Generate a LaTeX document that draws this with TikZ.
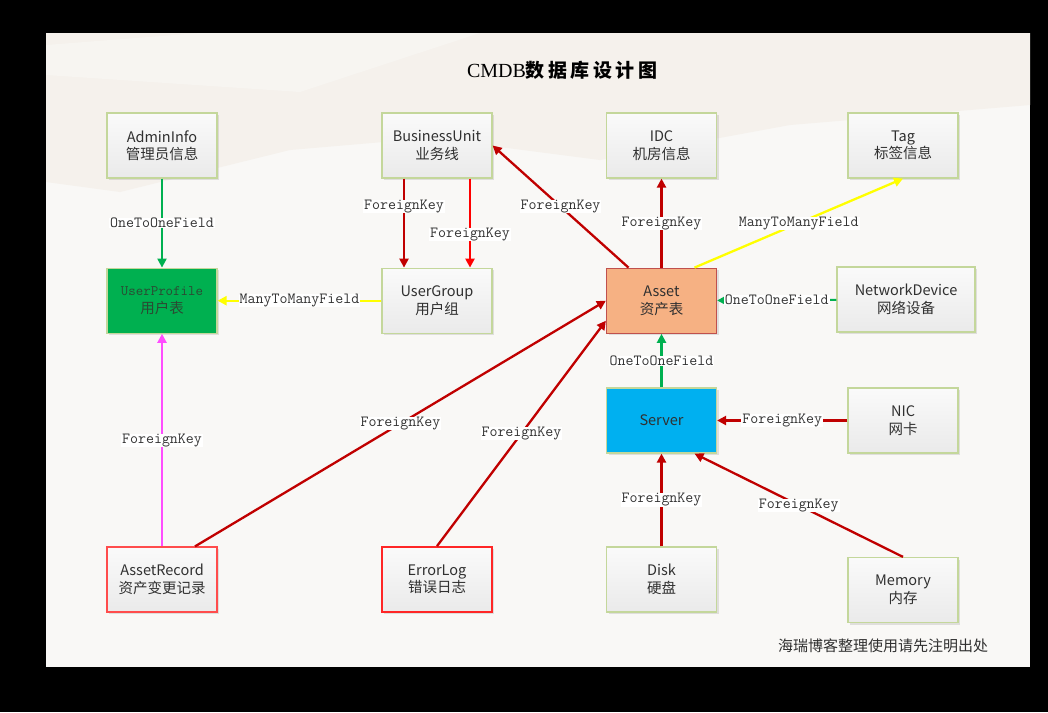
\documentclass[tikz,border=0pt]{standalone}
\usepackage{fontspec}
\newfontfamily\cjk{Noto Sans CJK SC}
\newfontfamily\titlefont{Liberation Serif}
\usetikzlibrary{arrows.meta,positioning,shadows}
\definecolor{panel}{HTML}{F9F8F6}
\definecolor{panelshade}{HTML}{F5F1EC}
\definecolor{boxline}{HTML}{C4D79B}
\definecolor{boxtop}{HTML}{FAFAFA}
\definecolor{boxbot}{HTML}{EAEAEA}
\definecolor{boxtext}{HTML}{303030}
\definecolor{lbltext}{HTML}{333333}
\definecolor{fkred}{HTML}{C00000}
\definecolor{fkbright}{HTML}{FF0000}
\definecolor{otogreen}{HTML}{00B050}
\definecolor{mtmyellow}{HTML}{FFFF00}
\definecolor{fkpink}{HTML}{FF4DFF}
\definecolor{assetfill}{HTML}{F6B183}
\definecolor{assetline}{HTML}{C0504D}
\definecolor{serverfill}{HTML}{00B0F0}
\definecolor{uptext}{HTML}{2B4A33}
\tikzset{
    -{Triangle[length=9pt,width=9pt]},
    box/.style={rectangle, draw=boxline, line width=1.2pt, minimum width=110pt,
        minimum height=65pt, top color=boxtop, bottom color=boxbot, align=center,
        text=boxtext, font=\cjk\fontsize{14.5}{17.5}\selectfont,
        drop shadow={shadow xshift=2pt, shadow yshift=-2pt, fill=black, opacity=0.1}},
    el/.style={fill=white, inner xsep=1pt, inner ysep=0pt, text=lbltext,
        font=\ttfamily\fontsize{15.5}{16}\selectfont},
    fk/.style={draw=fkred, line width=2.3pt},
    fkb/.style={draw=fkbright, line width=2.3pt},
    oto/.style={draw=otogreen, line width=2.1pt},
    mtm/.style={draw=mtmyellow, line width=2.3pt},
    fkp/.style={draw=fkpink, line width=2.1pt}
}
\begin{document}
\begin{tikzpicture}[x=1pt,y=1pt]
    % background
    \fill[black,-] (0,0) rectangle (1048,-712);
    \fill[panel,-] (46,-33) rectangle (1030,-667);
    \fill[panelshade,-] (46,-33) -- (1030,-33) -- (1030,-105) -- (790,-125) -- (600,-160)
        -- (430,-138) -- (290,-150) -- (120,-192) -- (46,-182) -- cycle;
    \fill[panel!50!panelshade,-] (200,-33) -- (480,-33) -- (300,-92) -- (46,-75) -- (46,-45) -- cycle;

    \node (0) at (562,-70) {{\titlefont\fontsize{20}{22}\selectfont CMDB}%
        {\cjk\bfseries\addfontfeatures{LetterSpace=18}\fontsize{19}{20}\selectfont 数据库设计图}};

    \node[box] (1) at (162,-145.5) {AdminInfo\\管理员信息};
    \node[box] (2) at (437,-145.5) {BusinessUnit\\业务线};
    \node[box] (3) at (661.5,-145.5) {IDC\\机房信息};
    \node[box] (4) at (903,-145.5) {Tag\\标签信息};
    \node[box, top color=otogreen, bottom color=otogreen, text=uptext] (5) [below = 89pt of 1]
        {{\ttfamily UserProfile}\\用户表};
    \node[box] (6) [below = 89pt of 2] {UserGroup\\用户组};
    \node[box, top color=assetfill, bottom color=assetfill, draw=assetline] (7) [below = 89pt of 3] {Asset\\资产表};
    \node[box, minimum width=138pt] (8) at (906,-299.5) {NetworkDevice\\网络设备};
    \node[box, top color=serverfill, bottom color=serverfill] (9) at (661.5,-420.5) {Server};
    \node[box] (10) at (903,-420.5) {NIC\\网卡};
    \node[box] (11) at (661.5,-579.5) {Disk\\硬盘};
    \node[box] (12) at (903,-590) {Memory\\内存};
    \node[box, draw=fkbright!70] (13) at (162,-579.5) {AssetRecord\\资产变更记录};
    \node[box, draw=fkbright!85, line width=1.8pt] (14) at (437,-579.5) {ErrorLog\\错误日志};
    \node[text=boxtext, font=\cjk\fontsize{15}{16}\selectfont] (15) at (883,-646) {海瑞博客整理使用请先注明出处};

    \path (1) edge[oto] node[el] {OneToOneField} (5);
    \path (6) edge[mtm] node[el] {ManyToManyField} (5);
    \path ([xshift=-33pt]2.south) edge[fk] node[el, pos=0.31] {ForeignKey} ([xshift=-33pt]6.north);
    \path ([xshift=33pt]2.south) edge[fkb] node[el, pos=0.63] {ForeignKey} ([xshift=33pt]6.north);
    \path ([xshift=-33pt]7.north) edge[fk] node[el] {ForeignKey} (2.east);
    \path (7) edge[fk] node[el] {ForeignKey} (3);
    \path ([xshift=33pt]7.north) edge[mtm] node[el] {ManyToManyField} (4.south);
    \path (8) edge[oto] node[el] {OneToOneField} (7);
    \path (9) edge[oto] node[el] {OneToOneField} (7);
    \path (10) edge[fk] node[el] {ForeignKey} (9);
    \path (11) edge[fk] node[el] {ForeignKey} (9);
    \path (12.north) edge[fk] node[el] {ForeignKey} ([xshift=33pt]9.south);
    \path ([xshift=33pt]13.north) edge[fk] node[el] {ForeignKey} (7.west);
    \path (14.north) edge[fk] node[el] {ForeignKey} ([yshift=-20pt]7.west);
    \path (13) edge[fkp] node[el] {ForeignKey} (5);
\end{tikzpicture}
\end{document}
